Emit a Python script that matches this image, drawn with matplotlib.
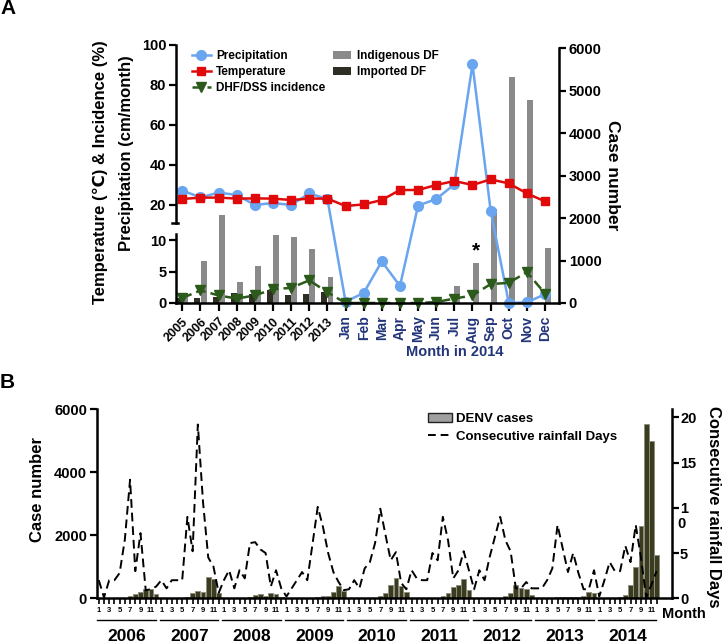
import matplotlib
matplotlib.use('Agg')
import matplotlib.pyplot as plt
import matplotlib.transforms as mtransforms
import numpy as np
from matplotlib.path import Path
from matplotlib.patches import Patch
from matplotlib.lines import Line2D

plt.rcParams['font.family'] = ['Liberation Sans', 'DejaVu Sans']
plt.rcParams['font.weight'] = 'bold'
plt.rcParams['axes.labelweight'] = 'bold'

W, H = 725, 644

# ---------------- panel A data ----------------
years_a = ['2005', '2006', '2007', '2008', '2009', '2010', '2011', '2012', '2013']
months_a = ['Jan', 'Feb', 'Mar', 'Apr', 'May', 'Jun', 'Jul', 'Aug', 'Sep', 'Oct', 'Nov', 'Dec']
cats_a = years_a + months_a

precip = [27.2, 23.8, 26.2, 25.0, 20.0, 21.0, 20.0, 25.8, 23.0,
          0.2, 1.6, 6.6, 2.7, 19.7, 23.0, 30.3, 90.3, 17.2, 0.0, 0.1, 1.4]
temp = [23.0, 23.7, 23.7, 23.2, 23.3, 23.2, 22.5, 23.2, 23.2,
        19.5, 20.3, 22.5, 27.5, 27.5, 30.0, 32.0, 30.0, 32.8, 30.8, 25.8, 21.8]
dhf = [0.8, 2.0, 1.2, 0.7, 1.2, 2.2, 2.4, 3.6, 1.7,
       0.0, 0.0, 0.0, 0.0, 0.0, 0.15, 0.7, 1.2, 3.0, 3.2, 4.9, 1.5]
indigenous = [205, 980, 2080, 494, 863, 1609, 1553, 1280, 612,
              0, 0, 0, 0, 10, 85, 390, 941, 2204, 5333, 4792, 1294]
imported = [120, 127, 141, 235, 220, 305, 181, 220, 259]

# ---------------- panel B data ----------------
years_b = ['2006', '2007', '2008', '2009', '2010', '2011', '2012', '2013', '2014']
cases = [
    0, 0, 0, 0, 5, 20, 70, 140, 210, 300, 290, 150,        # 2006
    0, 0, 0, 0, 10, 53, 180, 243, 212, 667, 614, 180,      # 2007
    0, 0, 0, 0, 5, 30, 100, 150, 80, 170, 150, 50,         # 2008
    0, 0, 0, 0, 5, 15, 40, 75, 80, 200, 390, 240,          # 2009
    0, 0, 0, 0, 5, 20, 60, 170, 420, 630, 400, 200,        # 2010
    0, 0, 0, 0, 5, 20, 60, 180, 350, 430, 620, 260,        # 2011
    0, 0, 0, 0, 5, 20, 70, 160, 420, 320, 290, 100,        # 2012
    0, 0, 0, 20, 30, 30, 40, 40, 50, 70, 200, 180,         # 2013
    0, 0, 0, 0, 40, 100, 420, 1000, 2300, 5530, 4990, 1375,  # 2014
]
rain_days = [
    2.0, 0.1, 2.0, 2.0, 2.8, 6.5, 13.1, 3.0, 7.2, 0.9, 1.0, 1.3,     # 2006
    2.0, 1.1, 2.0, 2.0, 2.0, 9.0, 5.2, 19.2, 10.6, 4.5, 3.5, 0.6,    # 2007
    2.0, 3.1, 1.1, 3.1, 2.2, 6.1, 6.2, 5.4, 5.0, 1.3, 3.1, 1.1,      # 2008
    0.2, 1.1, 2.0, 2.9, 2.0, 6.0, 10.1, 7.9, 5.0, 2.9, 1.8, 0.9,     # 2009
    1.0, 2.0, 1.1, 3.3, 4.0, 6.1, 9.9, 7.0, 4.2, 5.1, 1.7, 1.0,      # 2010
    3.1, 2.2, 2.0, 2.0, 5.0, 4.2, 9.0, 6.4, 2.2, 3.1, 5.2, 3.1,      # 2011
    1.0, 3.1, 2.0, 4.6, 6.8, 9.0, 6.4, 5.2, 1.1, 1.1, 1.8, 1.1,      # 2012
    1.1, 1.1, 2.0, 3.3, 8.1, 5.5, 2.9, 5.0, 2.8, 1.0, 1.0, 3.1,      # 2013
    0.2, 2.0, 4.0, 3.0, 3.0, 5.8, 4.0, 8.1, 4.5, 0.1, 1.5, 3.0,      # 2014
]
month_ticks_b = ['1', '', '3', '', '5', '', '7', '', '9', '', '11', '']

navy = '#22357a'
blue = '#6aa5f0'
red = '#e00a0a'
green = '#2b5a1a'

fig = plt.figure(figsize=(W / 100, H / 100), dpi=100)


# broken left axis: 0-11 at 6.3 px/unit, 11-100 at 2 px/unit (gap between)
def fwd(y):
    y = np.asarray(y, dtype=float)
    return np.where(y <= 11, y * 6.3, 98 + 2 * (y - 20))


def inv(p):
    p = np.asarray(p, dtype=float)
    return np.where(p <= 69.3, p / 6.3, np.where(p < 80, 11.0, 20 + (p - 98) / 2))


axA = fig.add_axes([176 / W, 1 - 303 / H, (559 - 176) / W, (303 - 45) / H])
axA2 = axA.twinx()
axA.set_zorder(axA2.get_zorder() + 1)
axA.patch.set_visible(False)

x_a = np.arange(len(cats_a))
axA2.bar(x_a + 0.17, indigenous, width=0.33, color='#8a8a8a', label='Indigenous DF', zorder=2)
axA2.bar(x_a[:len(imported)] - 0.17, imported, width=0.33, color='#2e2e24', label='Imported DF', zorder=2)
axA2.text(x_a[16] + 0.17, indigenous[16] + 60, '*', ha='center', va='bottom', fontsize=15)
axA2.set_ylim(0, 6080)
axA2.set_yticks(range(0, 6001, 1000))
axA2.spines['top'].set_visible(False)
axA2.spines['left'].set_visible(False)
axA2.spines['bottom'].set_visible(False)
axA2.spines['right'].set_linewidth(1.8)
axA2.spines['right'].set_bounds(0, 6000)
axA2.tick_params(axis='y', labelsize=10.5, width=1.6, length=5, pad=2)

axA.set_yscale('function', functions=(fwd, inv))
axA.set_ylim(0, 100)
axA.set_xlim(-0.35, 20.77)

clip = Path.make_compound_path(
    Path([(-0.1, -0.1), (1.1, -0.1), (1.1, 69.3 / 258), (-0.1, 69.3 / 258), (-0.1, -0.1)], closed=True),
    Path([(-0.1, 80 / 258), (1.1, 80 / 258), (1.1, 1.1), (-0.1, 1.1), (-0.1, 80 / 258)], closed=True))

lp, = axA.plot(x_a, precip, '-o', color=blue, lw=1.8, ms=7, label='Precipitation', clip_on=False)
lp.set_clip_path(clip, axA.transAxes)
lt, = axA.plot(x_a, temp, '-s', color=red, lw=1.8, ms=6, label='Temperature', clip_on=False)
ld, = axA.plot(x_a, dhf, '--v', color=green, lw=1.8, ms=6.5, dashes=(4, 2),
               label='DHF/DSS incidence', clip_on=False)

axA.set_yticks([0, 5, 10, 20, 40, 60, 80, 100])
axA.set_yticklabels(['0', '5', '10', '20', '40', '60', '80', '100'])
axA.minorticks_off()
axA.tick_params(axis='y', labelsize=10.5, width=1.6, length=5, pad=2)
axA.spines['top'].set_visible(False)
axA.spines['right'].set_visible(False)
axA.spines['left'].set_linewidth(1.8)
axA.spines['left'].set_bounds(0, 11)
axA.spines['bottom'].set_linewidth(1.8)
axA.add_line(Line2D([0, 0], [80 / 258, 1], transform=axA.transAxes, color='k', lw=1.8, clip_on=False))
axA.add_line(Line2D([-4 / 383, 2 / 383], [80 / 258, 80 / 258], transform=axA.transAxes,
                    color='k', lw=1.8, clip_on=False))

axA.set_xticks(x_a)
axA.set_xticklabels(cats_a)
axA.tick_params(axis='x', width=1.6, length=6, pad=3)
for i, lbl in enumerate(axA.get_xticklabels()):
    if i < len(years_a):
        lbl.set_rotation(45)
        lbl.set_ha('right')
        lbl.set_va('top')
        lbl.set_rotation_mode('anchor')
        lbl.set_fontsize(9)
    else:
        lbl.set_rotation(90)
        lbl.set_ha('center')
        lbl.set_va('top')
        lbl.set_color(navy)
        lbl.set_fontsize(10)

fig.text(455 / W, 1 - 352 / H, 'Month in 2014', color=navy, fontsize=10.5, ha='center', va='center')
fig.text(100 / W, 1 - 172 / H, 'Temperature (℃) & Incidence (%)', rotation=90, fontsize=12,
         ha='center', va='center')
fig.text(127 / W, 1 - 153 / H, 'Precipitation (cm/month)', rotation=90, fontsize=12,
         ha='center', va='center')
fig.text(612 / W, 1 - 175 / H, 'Case number', rotation=-90, fontsize=12.5, ha='center', va='center')
fig.text(8 / W, 1 - 9 / H, 'A', fontsize=15, ha='center', va='center')

h1, l1 = axA.get_legend_handles_labels()
h2, l2 = axA2.get_legend_handles_labels()
axA.legend(h1 + h2, l1 + l2, ncol=2, loc='upper left', bbox_to_anchor=(192 / W, 1 - 50 / H),
           bbox_transform=fig.transFigure, frameon=False, fontsize=8.5, handlelength=1.6,
           handletextpad=0.45, labelspacing=0.35, columnspacing=0.6, borderpad=0, borderaxespad=0)

# ---------------- panel B ----------------
axB = fig.add_axes([96.7 / W, 1 - 598.3 / H, (671.7 - 96.7) / W, (598.3 - 409.3) / H])
axB2 = axB.twinx()
x_b = np.arange(len(cases))
axB.bar(x_b, cases, width=0.9, color='#3b3b1f', edgecolor='#8f8f80', lw=0.7)
axB.set_ylim(0, 6000)
axB.set_xlim(-0.4, 109.9)
axB.set_yticks([0, 2000, 4000, 6000])
axB.tick_params(axis='y', labelsize=10.5, width=1.6, length=5, pad=2)
axB.set_xticks(x_b)
axB.set_xticklabels(month_ticks_b * len(years_b), fontsize=5.5)
axB.tick_params(axis='x', width=1.2, length=4, pad=2)
axB.spines['top'].set_visible(False)
axB.spines['right'].set_visible(False)
axB.spines['left'].set_linewidth(1.8)
axB.spines['bottom'].set_linewidth(1.8)

axB2.plot(x_b, rain_days, color='k', lw=1.4, dashes=(4.5, 2.5))
axB2.set_ylim(0, 20.88)
axB2.set_yticks([0, 5, 10, 15, 20])
axB2.set_yticklabels(['0', '5', '1', '15', '20'])
axB2.tick_params(axis='y', labelsize=10.5, width=1.6, length=5, pad=1)
axB2.annotate('0', xy=(1, 10), xycoords=axB2.get_yaxis_transform(), xytext=(4.3, -11.5),
              textcoords='offset points', ha='left', va='center', fontsize=10.5)
for s in ['top', 'left', 'bottom']:
    axB2.spines[s].set_visible(False)
axB2.spines['right'].set_linewidth(1.8)

trans = mtransforms.blended_transform_factory(axB.transData, axB.transAxes)
for k, yr in enumerate(years_b):
    axB.add_line(Line2D([12 * k - 0.3, 12 * k + 10.9], [-0.115, -0.115], transform=trans,
                        color='k', lw=1, clip_on=False))
    axB.text(12 * k + 5.4, -0.2, yr, transform=trans, ha='center', va='center', fontsize=12.5)

fig.text(684 / W, 1 - 614 / H, 'Month', fontsize=10.5, ha='center', va='center')
fig.text(38 / W, 1 - 490 / H, 'Case number', rotation=90, fontsize=12, ha='center', va='center')
fig.text(714 / W, 1 - 507 / H, 'Consecutive rainfall Days', rotation=-90, fontsize=12,
         ha='center', va='center')
fig.text(7 / W, 1 - 383 / H, 'B', fontsize=15, ha='center', va='center')

hb = [Patch(facecolor='#a0a0a0', edgecolor='#222222', lw=1),
      Line2D([], [], color='k', lw=1.4, dashes=(4, 2.5))]
axB.legend(hb, ['DENV cases', 'Consecutive rainfall Days'], loc='upper left',
           bbox_to_anchor=(428 / W, 1 - 413 / H), bbox_transform=fig.transFigure, frameon=False,
           fontsize=9.5, handlelength=1.8, handletextpad=0.3, labelspacing=0.4, borderpad=0,
           borderaxespad=0)

fig.savefig('out.png', dpi=100)
